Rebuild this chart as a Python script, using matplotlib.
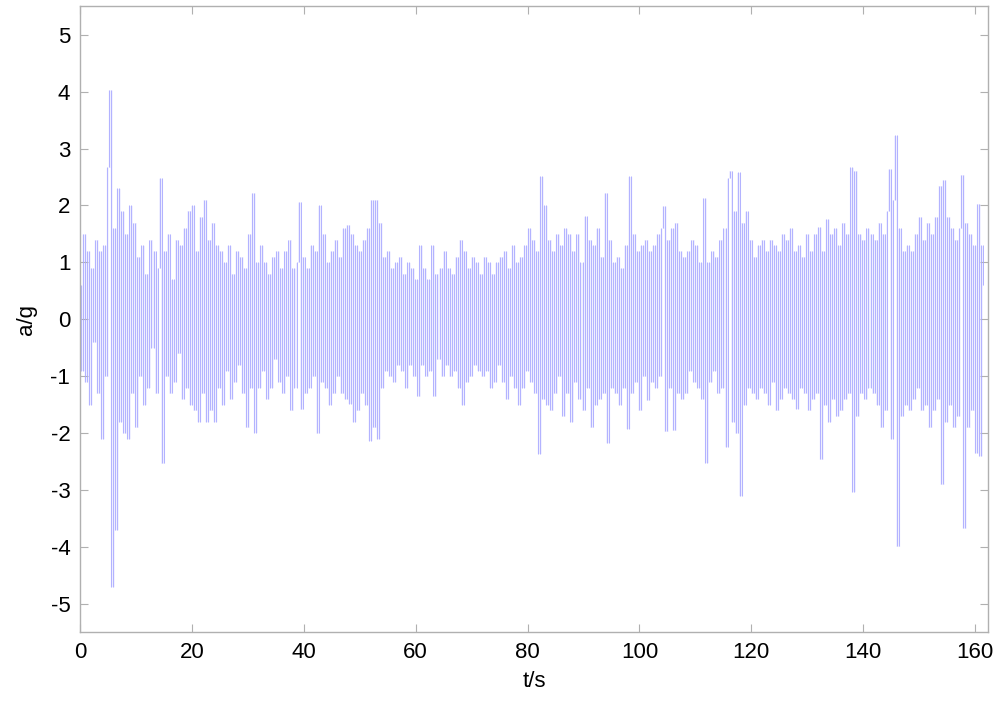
import numpy as np
import matplotlib.pyplot as plt

plt.rcParams['font.family'] = ['Liberation Sans', 'DejaVu Sans']
plt.rcParams['axes.unicode_minus'] = False

# acceleration samples, rows of 10 (dt = 0.36 s)
acc = [
    0.6, -0.9, 1.5, -1.1, 1.2, -1.5, 0.9, -0.4, 1.4, -1.3,
    1.2, -2.1, 1.3, -1.0, 2.67, 4.03, -4.7, 1.6, -3.7, 2.3,
    -1.8, 1.9, -2.0, 1.5, -2.1, 2.0, -1.3, 1.7, -1.9, 1.1,
    -1.0, 1.3, -1.5, 0.8, -1.2, 1.4, -0.5, 1.2, -1.3, 0.9,
    2.48, -2.53, 1.2, -1.0, 1.5, -1.3, 0.7, -1.1, 1.4, -0.6,
    1.3, -1.4, 1.6, -1.2, 1.91, -1.5, 2.0, -1.6, 1.2, -1.8,
    1.8, -1.3, 2.1, -1.8, 1.4, -1.6, 1.7, -1.8, 1.3, -1.2,
    1.2, -1.5, 1.0, -0.9, 1.3, -1.4, 0.8, -1.1, 1.2, -0.8,
    1.1, -1.3, 0.9, -1.9, 1.5, -1.2, 2.22, -1.99, 1.0, -1.2,
    1.3, -0.9, 1.0, -1.4, 0.8, -1.2, 1.1, -0.7, 1.2, -1.1,
    0.9, -1.3, 1.2, -1.0, 1.4, -1.6, 0.9, -1.2, 1.0, 2.06,
    -1.58, 1.1, -1.3, 0.9, -1.2, 1.3, -1.0, 1.2, -2.0, 2.0,
    -1.1, 1.5, -1.2, 1.0, -1.5, 1.2, -1.3, 1.4, -1.0, 1.1,
    -1.3, 1.6, -1.4, 1.66, -1.48, 1.5, -1.8, 1.3, -1.6, 1.2,
    -1.3, 1.4, -1.5, 1.6, -2.13, 2.1, -1.9, 2.1, -2.1, 1.7,
    -1.2, 1.1, -0.9, 1.2, -1.0, 0.9, -1.1, 1.0, -0.8, 1.1,
    -0.9, 0.8, -1.2, 1.0, -0.8, 0.9, -1.0, 0.7, -1.35, 1.3,
    -0.8, 0.9, -1.0, 0.7, -0.9, 1.3, -1.35, 0.8, -0.7, 0.9,
    -1.0, 1.2, -0.8, 0.9, -1.0, 0.8, -0.9, 1.1, -1.2, 1.4,
    -1.5, 1.2, -1.1, 0.9, -1.0, 1.1, -0.8, 1.0, -0.9, 0.8,
    -1.0, 1.1, -0.9, 1.0, -1.2, 0.8, -1.1, 1.0, -0.8, 1.1,
    -1.1, 1.2, -1.4, 0.9, -1.0, 1.3, -1.2, 1.0, -1.5, 1.1,
    -1.2, 1.3, -0.9, 1.6, -1.1, 1.4, -1.3, 1.2, -2.36, 2.51,
    -1.4, 2.0, -1.5, 1.4, -1.6, 1.2, -1.3, 1.5, -1.0, 1.3,
    -1.7, 1.6, -1.3, 1.5, -1.8, 1.2, -1.1, 1.5, -1.4, 1.0,
    -1.6, 1.81, -1.2, 1.4, -1.9, 1.3, -1.5, 1.6, -1.4, 1.1,
    -1.3, 2.22, -2.17, 1.4, -1.2, 1.0, -1.3, 1.1, -1.5, 0.9,
    -1.2, 1.3, -1.92, 2.51, -1.3, 1.5, -1.1, 1.2, -1.6, 1.3,
    -1.0, 1.4, -1.42, 1.2, -1.1, 1.3, -1.2, 1.5, -1.0, 1.6,
    1.99, -1.97, 1.4, -1.2, 1.6, -1.95, 1.7, -1.3, 1.2, -1.4,
    1.1, -1.3, 1.2, -0.9, 1.4, -1.1, 1.3, -1.2, 1.0, -1.4,
    2.13, -2.52, 1.0, -1.1, 1.2, -0.9, 1.1, -1.3, 1.4, -1.2,
    1.6, -2.24, 2.48, 2.61, -1.8, 1.9, -2.0, 2.58, -3.1, 1.7,
    -1.5, 1.9, -1.2, 1.4, -1.3, 1.1, -1.4, 1.3, -1.2, 1.4,
    -1.3, 1.2, -1.5, 1.4, -1.1, 1.3, -1.6, 1.2, -1.4, 1.5,
    -1.2, 1.4, -1.3, 1.6, -1.4, 1.2, -1.57, 1.3, -1.2, 1.1,
    -1.3, 1.5, -1.6, 1.2, -1.4, 1.5, -1.3, 1.62, -2.46, 1.2,
    -1.5, 1.76, -1.8, 1.5, -1.4, 1.6, -1.7, 1.3, -1.6, 1.7,
    -1.4, 1.5, -1.3, 2.67, -3.03, 2.61, -1.7, 1.5, -1.3, 1.4,
    -1.4, 1.6, -1.2, 1.5, -1.3, 1.4, -1.5, 1.7, -1.9, 1.5,
    -1.6, 1.9, 2.64, -2.1, 2.1, 3.23, -3.99, 1.6, -1.7, 1.2,
    -1.5, 1.3, -1.6, 1.2, -1.4, 1.5, -1.2, 1.8, -1.6, 1.4,
    -1.5, 1.7, -1.9, 1.5, -1.6, 1.8, -1.4, 2.35, -2.9, 2.45,
    -1.8, 1.8, -1.5, 1.6, -1.9, 1.4, -1.7, 1.6, 2.54, -3.67,
    1.7, -1.9, 1.5, -1.6, 1.3, -2.35, 2.03, -2.4, 1.3, 0.6,
]
dt = 0.36
xticks = [0, 20, 40, 60, 80, 100, 120, 140, 160]
yticks = [-5, -4, -3, -2, -1, 0, 1, 2, 3, 4, 5]

t = np.arange(len(acc)) * dt
a = np.array(acc)

fig = plt.figure(figsize=(10, 7.01), dpi=100)
ax = fig.add_axes([0.08, 0.098, 0.908, 0.893])
# each stroke joins one sample to the next
tm = t[1:] - dt / 2
lo = np.minimum(a[:-1], a[1:])
hi = np.maximum(a[:-1], a[1:])
ax.fill_between(tm, lo, hi, step='mid', color='#eeeeff', lw=0)
ax.vlines(tm, lo, hi, color='#a8a8ff', lw=0.6)

ax.set_xlim(0, 162.3)
ax.set_ylim(-5.5, 5.5)
ax.set_xticks(xticks)
ax.set_yticks(yticks)
ax.tick_params(direction='in', length=6, width=0.8, color='#b0b0b0',
               top=True, right=True, labelsize=16, pad=7)
for s in ax.spines.values():
    s.set_color('#b0b0b0')
    s.set_linewidth(1.0)

ax.set_xlabel('t/s', fontsize=16, labelpad=6)
ax.set_ylabel('a/g', fontsize=16, labelpad=10)

plt.savefig('out.png')
